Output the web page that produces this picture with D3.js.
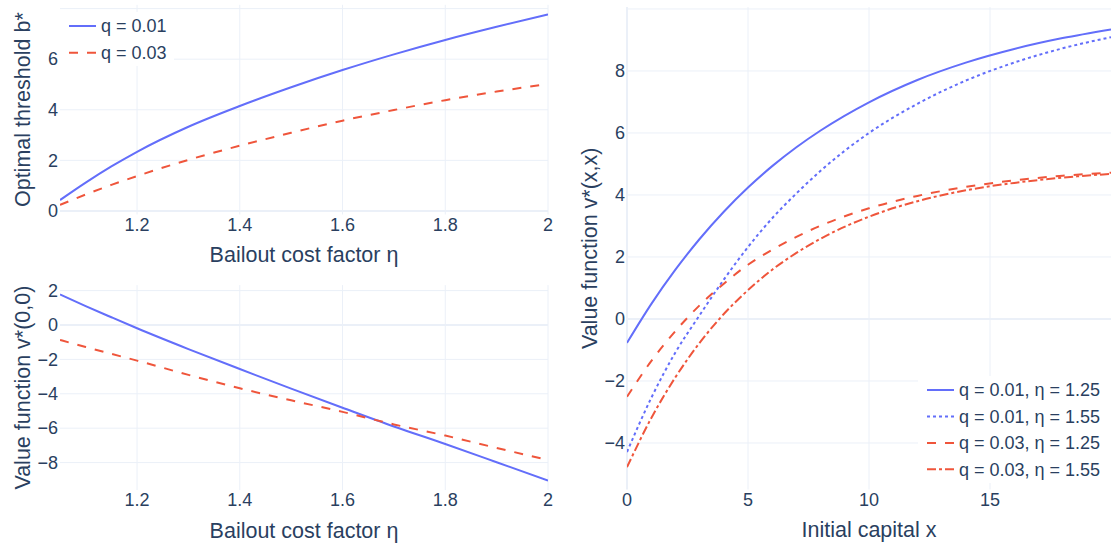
<!DOCTYPE html>
<html>
<head>
<meta charset="utf-8">
<script src="https://cdn.jsdelivr.net/npm/d3@7"></script>
<style>
  body { margin: 0; background: #fff; }
  text { font-family: "Liberation Sans", Arial, sans-serif; fill: #2a3f5f; }
</style>
</head>
<body>
<div id="chart"></div>
<script>
// ---- data ----
const etaValues = [1.05, 1.1, 1.15, 1.2, 1.3, 1.4, 1.5, 1.6, 1.7, 1.8, 1.9, 2.0];
const thresholdQ01 = [0.43, 1.12, 1.76, 2.34, 3.33, 4.15, 4.89, 5.57, 6.19, 6.76, 7.28, 7.77];
const thresholdQ03 = [0.24, 0.65, 1.03, 1.38, 2.02, 2.58, 3.09, 3.57, 3.99, 4.38, 4.72, 5.02];
const valueZeroQ01 = [1.78, 1.10, 0.45, -0.19, -1.40, -2.56, -3.70, -4.81, -5.90, -6.92, -7.98, -9.05];
const valueZeroQ03 = [-0.87, -1.28, -1.68, -2.07, -2.90, -3.68, -4.38, -5.05, -5.78, -6.43, -7.15, -7.85];

const capitalValues = [0, 1, 2, 3, 4, 5, 6, 7, 8, 10, 12, 14, 16, 18, 20];
const valueQ01Eta125 = [-0.77, 0.48, 1.59, 2.58, 3.46, 4.24, 4.93, 5.54, 6.08, 6.99, 7.71, 8.27, 8.71, 9.06, 9.34];
const valueQ01Eta155 = [-4.29, -2.55, -1.08, 0.12, 1.27, 2.32, 3.25, 4.05, 4.78, 6.0, 6.94, 7.69, 8.27, 8.73, 9.09];
const valueQ03Eta125 = [-2.51, -1.36, -0.39, 0.44, 1.14, 1.75, 2.23, 2.65, 3.01, 3.57, 3.97, 4.26, 4.47, 4.62, 4.72];
const valueQ03Eta155 = [-4.78, -3.2, -1.88, -0.77, 0.16, 0.93, 1.59, 2.13, 2.59, 3.3, 3.8, 4.15, 4.39, 4.56, 4.68];

// tick values and labels
const etaTicks = [1.2, 1.4, 1.6, 1.8, 2];
const etaTickLabels = ["1.2", "1.4", "1.6", "1.8", "2"];
const thresholdTicks = [0, 2, 4, 6, 8];
const thresholdTickLabels = ["0", "2", "4", "6", ""];
const valueZeroTicks = [-8, -6, -4, -2, 0, 2];
const valueZeroTickLabels = ["\u22128", "\u22126", "\u22124", "\u22122", "0", "2"];
const capitalTicks = [0, 5, 10, 15];
const capitalTickLabels = ["0", "5", "10", "15"];
const valueTicks = [-4, -2, 0, 2, 4, 6, 8, 10];
const valueTickLabels = ["\u22124", "\u22122", "0", "2", "4", "6", "8", ""];

const BLUE = "#636efa", RED = "#EF553B", GRID = "#EBF0F8";

const svg = d3.select("#chart").append("svg")
    .attr("width", 1115)
    .attr("height", 550);

/*************************************** panels ***************************************/
function panel(id, box, xDomain, yDomain, xTicks, xLabels, yTicks, yLabels, xTitle, yTitle, yTitleX) {
    var x = d3.scaleLinear().domain(xDomain).range([box.left, box.right]);
    var y = d3.scaleLinear().domain(yDomain).range([box.bottom, box.top]);
    var g = svg.append("g");

    // gridlines
    g.selectAll(".vgrid").data(xTicks).enter().append("line")
        .attr("x1", d => x(d)).attr("x2", d => x(d))
        .attr("y1", box.top).attr("y2", box.bottom)
        .attr("stroke", GRID).attr("stroke-width", d => d === 0 ? 2 : 1);
    g.selectAll(".hgrid").data(yTicks).enter().append("line")
        .attr("x1", box.left).attr("x2", box.right)
        .attr("y1", d => y(d)).attr("y2", d => y(d))
        .attr("stroke", GRID).attr("stroke-width", d => d === 0 ? 2 : 1);

    // tick labels
    g.selectAll(".xlab").data(xTicks).enter().append("text")
        .attr("x", d => x(d)).attr("y", box.bottom + 16)
        .attr("text-anchor", "middle").style("font-size", "18px")
        .text((d, i) => xLabels[i]);
    g.selectAll(".ylab").data(yTicks).enter().append("text")
        .attr("x", box.left - 2).attr("y", d => y(d) + 6.3)
        .attr("text-anchor", "end").style("font-size", "18px")
        .text((d, i) => yLabels[i]);

    // axis titles
    g.append("text")
        .attr("x", (box.left + box.right) / 2).attr("y", box.bottom + 47.5)
        .attr("text-anchor", "middle").style("font-size", "21.5px")
        .text(xTitle);
    g.append("text")
        .attr("transform", "translate(" + yTitleX + "," + (box.top + box.bottom) / 2 + ")rotate(-90)")
        .attr("text-anchor", "middle").style("font-size", "21.5px")
        .text(yTitle);

    svg.append("clipPath").attr("id", id)
        .append("rect")
        .attr("x", box.left).attr("y", box.top)
        .attr("width", box.right - box.left).attr("height", box.bottom - box.top);

    return { x: x, y: y, g: svg.append("g").attr("clip-path", "url(#" + id + ")") };
}

function drawLine(p, xs, ys, color, dash) {
    var line = d3.line()
        .x((d, i) => p.x(xs[i]))
        .y(d => p.y(d))
        .curve(d3.curveMonotoneX);
    p.g.append("path")
        .datum(ys)
        .attr("fill", "none")
        .attr("stroke", color)
        .attr("stroke-width", 2)
        .attr("stroke-dasharray", dash)
        .attr("d", line);
}

function legend(left, top, right, bottom, items, rowY) {
    var g = svg.append("g");
    g.append("rect")
        .attr("x", left).attr("y", top)
        .attr("width", right - left).attr("height", bottom - top)
        .attr("fill", "#fff");
    items.forEach(function (it, i) {
        g.append("line")
            .attr("x1", left + 9).attr("x2", left + 36)
            .attr("y1", rowY[i]).attr("y2", rowY[i])
            .attr("stroke", it.color).attr("stroke-width", 2)
            .attr("stroke-dasharray", it.dash);
        g.append("text")
            .attr("x", left + 41).attr("y", rowY[i] + 6.3)
            .style("font-size", "18px")
            .text(it.label);
    });
}

// top left: optimal threshold
var tl = panel("clipTL", { left: 60, right: 548, top: 4.8, bottom: 214.5 },
    [1.05, 2], [-0.14, 8.15], etaTicks, etaTickLabels, thresholdTicks, thresholdTickLabels,
    "Bailout cost factor \u03b7", "Optimal threshold b*", 29.5);
drawLine(tl, etaValues, thresholdQ01, BLUE, null);
drawLine(tl, etaValues, thresholdQ03, RED, "9,9");

// bottom left: value at zero
var bl = panel("clipBL", { left: 60, right: 548, top: 285.1, bottom: 490.1 },
    [1.05, 2], [-9.6, 2.32], etaTicks, etaTickLabels, valueZeroTicks, valueZeroTickLabels,
    "Bailout cost factor \u03b7", "Value function v*(0,0)", 30);
drawLine(bl, etaValues, valueZeroQ01, BLUE, null);
drawLine(bl, etaValues, valueZeroQ03, RED, "9,9");

// right: value function vs capital
var rp = panel("clipR", { left: 627, right: 1111, top: 7.1, bottom: 489.5 },
    [0, 20], [-5.5, 10.06], capitalTicks, capitalTickLabels, valueTicks, valueTickLabels,
    "Initial capital x", "Value function v*(x,x)", 597);
drawLine(rp, capitalValues, valueQ01Eta125, BLUE, null);
drawLine(rp, capitalValues, valueQ01Eta155, BLUE, "3,3");
drawLine(rp, capitalValues, valueQ03Eta125, RED, "9,9");
drawLine(rp, capitalValues, valueQ03Eta155, RED, "9,3,3,3");

// legends
legend(60, 12, 174, 66, [
    { label: "q = 0.01", color: BLUE, dash: null },
    { label: "q = 0.03", color: RED, dash: "9,9" }
], [26, 52.7]);

legend(918, 376, 1111, 483, [
    { label: "q = 0.01, \u03b7 = 1.25", color: BLUE, dash: null },
    { label: "q = 0.01, \u03b7 = 1.55", color: BLUE, dash: "3,3" },
    { label: "q = 0.03, \u03b7 = 1.25", color: RED, dash: "9,9" },
    { label: "q = 0.03, \u03b7 = 1.55", color: RED, dash: "9,3,3,3" }
], [390, 416.5, 443, 469.3]);
</script>
</body>
</html>
